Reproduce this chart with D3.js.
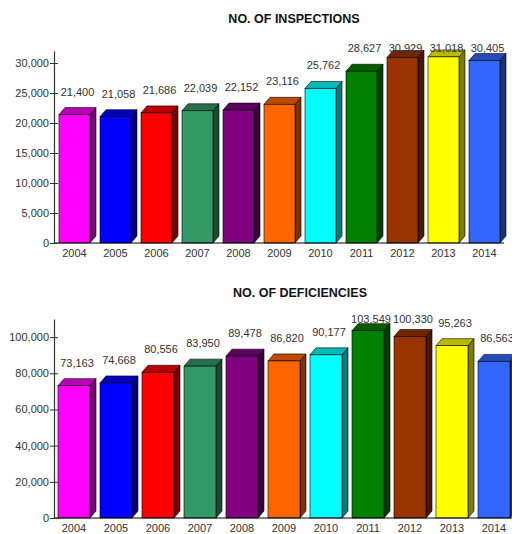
<!DOCTYPE html>
<html>
<head>
<meta charset="utf-8">
<script src="https://cdn.jsdelivr.net/npm/d3@7"></script>
<style>
  body { margin: 0; background: #fff; }
  svg { display: block; }
</style>
</head>
<body>
<script>
var years = ["2004","2005","2006","2007","2008","2009","2010","2011","2012","2013","2014"];
var inspections = [21400, 21058, 21686, 22039, 22152, 23116, 25762, 28627, 30929, 31018, 30405];
var deficiencies = [73163, 74668, 80556, 83950, 89478, 86820, 90177, 103549, 100330, 95263, 86563];
var barColors = ["#ff00ff","#0000ff","#ff0000","#339966","#800080","#ff6600","#00ffff","#008000","#993300","#ffff00","#3366ff"];
var inspectionTicks = [0, 5000, 10000, 15000, 20000, 25000, 30000];
var deficiencyTicks = [0, 20000, 40000, 60000, 80000, 100000];

var width = 512, height = 534;
var svg = d3.select("body").append("svg")
  .attr("width", width)
  .attr("height", height);

var fmt = d3.format(",");
var depthX = 6, depthY = 7;
var font = "Liberation Sans, Arial, sans-serif";

function drawChart(opts) {
  var g = svg.append("g");

  g.append("text")
    .attr("x", opts.titleX)
    .attr("y", opts.titleY)
    .attr("text-anchor", "middle")
    .style("font-family", font)
    .style("font-weight", "bold")
    .style("font-size", "12.5px")
    .style("fill", "#111")
    .text(opts.title);

  var x = d3.scaleBand()
    .domain(years)
    .range(opts.xRange)
    .paddingInner(opts.padIn)
    .paddingOuter(opts.padOut);

  var y = d3.scaleLinear()
    .domain(opts.yDomain)
    .range(opts.yRange);

  var y0 = y(0);
  var bw = x.bandwidth();

  var bars = g.selectAll("g.bar")
    .data(opts.values)
    .enter().append("g")
    .attr("class", "bar");

  // side face
  bars.append("path")
    .attr("d", function(d, i) {
      var x1 = x(years[i]) + bw, t = y(d);
      return "M" + x1 + "," + y0 + "L" + (x1 + depthX) + "," + (y0 - depthY) +
        "L" + (x1 + depthX) + "," + (t - depthY) + "L" + x1 + "," + t + "Z";
    })
    .style("fill", function(d, i) { return d3.color(barColors[i]).darker(2); })
    .style("stroke", "#000")
    .style("stroke-width", 0.6);

  // top face
  bars.append("path")
    .attr("d", function(d, i) {
      var x0 = x(years[i]), t = y(d);
      return "M" + x0 + "," + t + "L" + (x0 + depthX) + "," + (t - depthY) +
        "L" + (x0 + bw + depthX) + "," + (t - depthY) + "L" + (x0 + bw) + "," + t + "Z";
    })
    .style("fill", function(d, i) { return d3.color(barColors[i]).darker(0.9); })
    .style("stroke", "#000")
    .style("stroke-width", 0.6);

  // front face
  bars.append("rect")
    .attr("x", function(d, i) { return x(years[i]); })
    .attr("y", function(d) { return y(d); })
    .attr("width", bw)
    .attr("height", function(d) { return y0 - y(d); })
    .style("fill", function(d, i) { return barColors[i]; })
    .style("stroke", "#000")
    .style("stroke-width", 0.6);

  // value labels
  bars.append("text")
    .attr("x", function(d, i) { return x(years[i]) + bw / 2 + 3; })
    .attr("y", function(d) { return Math.max(y(d) - depthY - 16, opts.labelMin) + 4; })
    .attr("text-anchor", "middle")
    .style("font-family", font)
    .style("font-size", "11px")
    .style("fill", "#333")
    .text(function(d) { return fmt(d); });

  // baseline
  g.append("line")
    .attr("x1", opts.axisX)
    .attr("x2", opts.xRange[1])
    .attr("y1", y0)
    .attr("y2", y0)
    .style("stroke", "#000")
    .style("stroke-width", 1);

  // y axis
  var axis = g.append("g")
    .attr("transform", "translate(" + opts.axisX + ",0)")
    .call(d3.axisLeft(y)
      .tickValues(opts.ticks)
      .tickSize(4)
      .tickSizeOuter(0)
      .tickPadding(1)
      .tickFormat(fmt));
  axis.select(".domain").style("stroke", "#333").style("stroke-width", 1.2);
  axis.selectAll(".tick line").attr("x1", 4).attr("x2", -4).style("stroke", "#333");
  axis.selectAll(".tick text")
    .style("font-family", font)
    .style("font-size", "11px")
    .style("fill", "#333");

  // year labels
  g.selectAll("text.year")
    .data(years)
    .enter().append("text")
    .attr("class", "year")
    .attr("x", function(d) { return x(d) + bw / 2; })
    .attr("y", y0 + 14)
    .attr("text-anchor", "middle")
    .style("font-family", font)
    .style("font-size", "11px")
    .style("fill", "#333")
    .text(function(d) { return d; });
}

drawChart({
  title: "NO. OF INSPECTIONS",
  titleX: 294, titleY: 23,
  values: inspections,
  ticks: inspectionTicks,
  xRange: [55, 504], padIn: 0.244, padOut: 0.0976,
  yDomain: [0, 32000], yRange: [243, 51],
  axisX: 54,
  labelMin: 48
});

drawChart({
  title: "NO. OF DEFICIENCIES",
  titleX: 300, titleY: 297,
  values: deficiencies,
  ticks: deficiencyTicks,
  xRange: [54, 514], padIn: 0.238, padOut: 0.095,
  yDomain: [0, 110000], yRange: [518, 319],
  axisX: 54,
  labelMin: 319
});
</script>
</body>
</html>
